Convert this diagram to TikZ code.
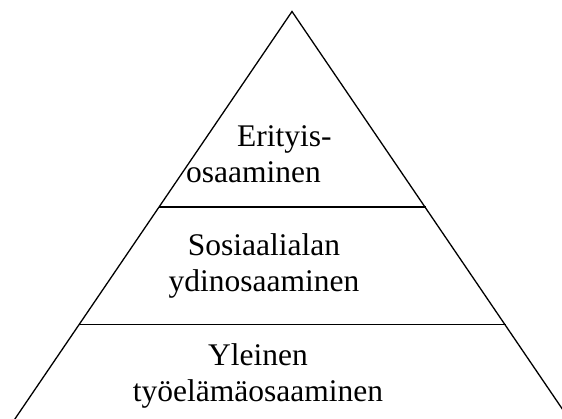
\documentclass[tikz,border=0pt]{standalone}
\usepackage{fontspec}
\setmainfont{Liberation Serif}

\begin{document}
\begin{tikzpicture}[x=1pt,y=-1pt]
\tikzset{tier/.style={inner sep=0pt,font=\fontsize{31.5}{36}\selectfont}}
\useasboundingbox (0,0) rectangle (562,419);
\clip (0,0) rectangle (562,419);
% pyramid outline
\coordinate (apex) at (292,11.5);
\coordinate (bl) at (0.6,440);
\coordinate (br) at (583.4,440);
\draw [black,line width=1.3pt,line join=miter] (bl) -- (apex) -- (br);
% dividing lines
\coordinate (l1) at (159,207);
\coordinate (r1) at (426,207);
\coordinate (l2) at (79,324.5);
\coordinate (r2) at (506,324.5);
\draw [black,line width=1.3pt] (l1) -- (r1);
\draw [black,line width=1.3pt] (l2) -- (r2);
% labels
\node [tier,align=left,anchor=base west] (eri) at (186,183) {\hspace*{51pt}Erityis-\\osaaminen};
\node [tier,align=center,anchor=base] (sos) at (264,291.7) {Sosiaalialan\\ydinosaaminen};
\node [tier,align=center,anchor=base] (yle) at (258,401.7) {Yleinen\\työelämäosaaminen};
\end{tikzpicture}
\end{document}
